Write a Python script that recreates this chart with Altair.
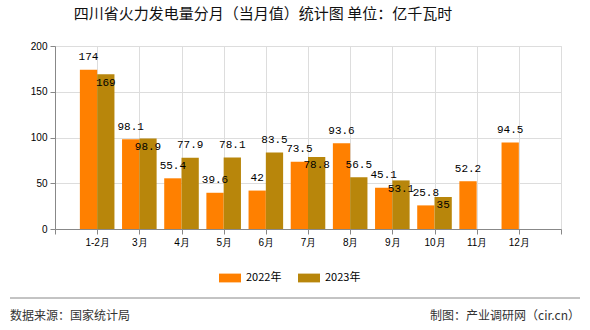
import json
import altair as alt
import pandas as pd

months = ["1-2月", "3月", "4月", "5月", "6月", "7月", "8月", "9月", "10月", "11月", "12月"]
v2022 = [174, 98.1, 55.4, 39.6, 42, 73.5, 93.6, 45.1, 25.8, 52.2, 94.5]
v2023 = [169, 98.9, 77.9, 78.1, 83.5, 78.8, 56.5, 53.1, 35, None, None]
series = ["2022年", "2023年"]
colors = ["#FF8000", "#B8860B"]
title_text = "四川省火力发电量分月（当月值）统计图 单位：亿千瓦时"
source_text = "数据来源：国家统计局"
credit_text = "制图：产业调研网（cir.cn）"

df = pd.DataFrame({
    "month": months,
    "pos": list(range(1, len(months) + 1)),
    "2022年": v2022,
    "2023年": v2023,
})

BW = 0.41
label_expr = (
    "datum.value >= 1 && datum.value <= %d ? %s[datum.value - 1] : ''"
    % (len(months), json.dumps(months, ensure_ascii=False))
)

base = (
    alt.Chart(df)
    .transform_fold(series, as_=["series", "value"])
    .transform_filter("isValid(datum.value)")
    .transform_calculate(
        x0="datum.series == '2022年' ? datum.pos - %f : datum.pos" % BW,
        x1="datum.series == '2022年' ? datum.pos : datum.pos + %f" % BW,
        xm="datum.series == '2022年' ? datum.pos - %f : datum.pos + %f" % (BW / 2, BW / 2),
        label="'' + datum.value",
        low="datum.series == '2023年' && isValid(datum['2022年']) && abs(datum['2023年'] - datum['2022年']) < 13",
    )
)

xscale = alt.Scale(domain=[0, 12], nice=False, zero=False)
yscale = alt.Scale(domain=[0, 200], nice=False)

bars = base.mark_bar().encode(
    x=alt.X(
        "x0:Q",
        scale=xscale,
        title=None,
        axis=alt.Axis(
            values=list(range(13)),
            labelExpr=label_expr,
            grid=True,
            tickSize=5,
            labelPadding=3,
        ),
    ),
    x2="x1:Q",
    y=alt.Y(
        "value:Q",
        scale=yscale,
        title=None,
        axis=alt.Axis(values=[0, 50, 100, 150, 200], grid=True, tickSize=5, labelPadding=3),
    ),
    y2=alt.datum(0),
    color=alt.Color(
        "series:N",
        scale=alt.Scale(domain=series, range=colors),
        title=None,
        legend=alt.Legend(
            orient="none",
            legendX=164,
            legendY=221,
            direction="horizontal",
            symbolType="M-1,-0.4H1V0.4H-1Z",
            symbolSize=484,
            symbolStrokeWidth=0,
            symbolOpacity=1,
            labelFontSize=11,
            labelFont="Noto Sans CJK SC",
            labelColor="#000",
            columnPadding=16,
            labelOffset=5,
        ),
    ),
)

txt_common = dict(font="Liberation Mono", fontSize=11, baseline="middle", align="center", color="#000")
labels_up = base.transform_filter("!datum.low").mark_text(dy=-12.5, **txt_common).encode(
    x=alt.X("xm:Q", scale=xscale), y=alt.Y("value:Q", scale=yscale), text="label:N"
)
labels_low = base.transform_filter("datum.low").mark_text(dy=8.5, **txt_common).encode(
    x=alt.X("xm:Q", scale=xscale), y=alt.Y("value:Q", scale=yscale), text="label:N"
)

footer_line = alt.Chart(pd.DataFrame({"a": [0]})).mark_rule(color="#888", strokeWidth=1).encode(
    x=alt.value(-45), x2=alt.value(525), y=alt.value(252)
)
footer_left = alt.Chart(pd.DataFrame({"t": [source_text]})).mark_text(
    align="left", baseline="middle", fontSize=12, font="Noto Sans CJK SC", color="#333"
).encode(x=alt.value(-45), y=alt.value(270), text="t:N")
footer_right = alt.Chart(pd.DataFrame({"t": [credit_text]})).mark_text(
    align="right", baseline="middle", fontSize=12, font="Noto Sans CJK SC", color="#333"
).encode(x=alt.value(525), y=alt.value(270), text="t:N")

chart = (
    alt.layer(bars, labels_up, labels_low, footer_line, footer_left, footer_right)
    .properties(
        width=506,
        height=183,
        autosize=alt.AutoSizeParams(type="none"),
        padding={"left": 55, "top": 46, "right": 29, "bottom": 101},
        title=alt.Title(
            title_text,
            anchor="middle",
            dx=-45,
            offset=19,
            fontSize=15,
            font="Noto Sans CJK SC",
            fontWeight="normal",
            color="#111",
        ),
    )
    .configure_view(stroke=None)
    .configure_axis(
        domainColor="#000",
        tickColor="#000",
        labelColor="#000",
        labelFont="Noto Sans CJK SC",
        labelFontSize=12,
        gridColor="#d4d4d4",
    )
    .configure(background="white")
)

chart.save("out.html", embed_options={"renderer": "svg", "actions": False})
